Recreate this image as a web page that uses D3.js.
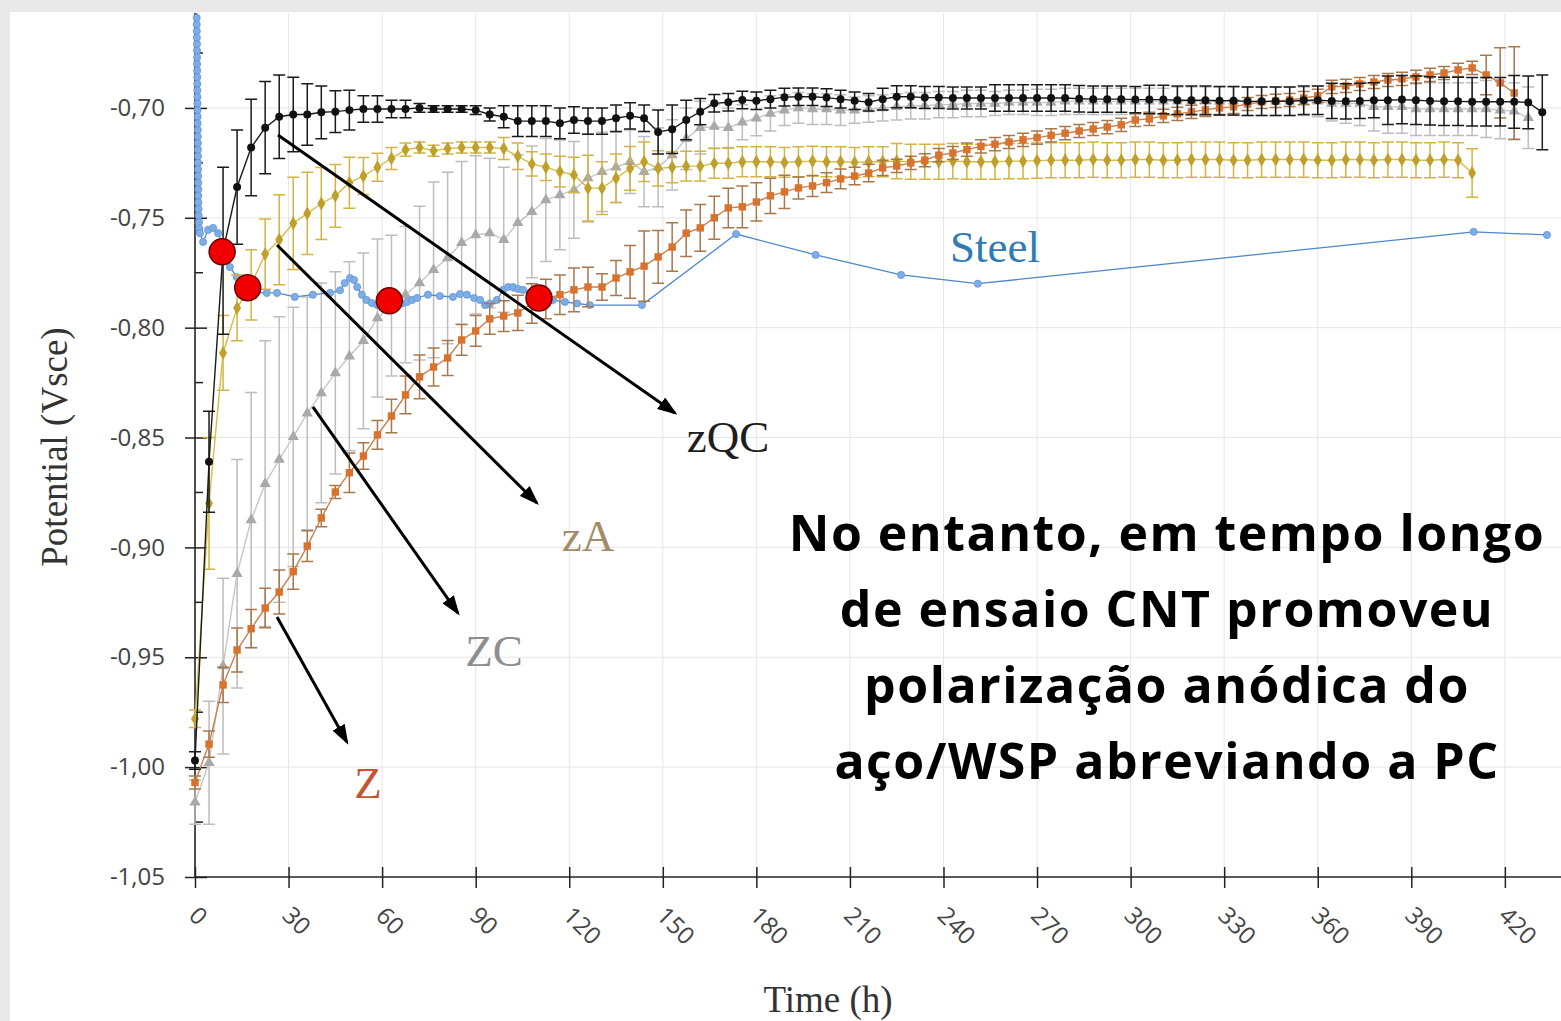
<!DOCTYPE html>
<html>
<head>
<meta charset="utf-8">
<script src="https://cdn.jsdelivr.net/npm/d3@7"></script>
<style>
body { margin: 0; background: #fff; }
svg { display: block; }
</style>
</head>
<body>
<div id="chart"></div>
<script>
// sampling times (h) shared by the four coated series
var hours = [0, 4.5, 9, 13.5, 18, 22.5, 27, 31.5, 36, 40.5, 45, 49.5, 54, 58.5, 63, 67.5, 72, 76.5, 81, 85.5,
  90, 94.5, 99, 103.5, 108, 112.5, 117, 121.5, 126, 130.5, 135, 139.5, 144, 148.5, 153, 157.5, 162, 166.5, 171, 175.5,
  180, 184.5, 189, 193.5, 198, 202.5, 207, 211.5, 216, 220.5, 225, 229.5, 234, 238.5, 243, 247.5, 252, 256.5, 261, 265.5,
  270, 274.5, 279, 283.5, 288, 292.5, 297, 301.5, 306, 310.5, 315, 319.5, 324, 328.5, 333, 337.5, 342, 346.5, 351, 355.5,
  360, 364.5, 369, 373.5, 378, 382.5, 387, 391.5, 396, 400.5, 405, 409.5, 414, 418.5, 423, 427.5, 432];

var zqcValues = [-0.997, -0.861, -0.765, -0.736, -0.718, -0.709, -0.704, -0.703, -0.703, -0.702,
  -0.7017, -0.701, -0.7005, -0.7005, -0.7005, -0.7005, -0.700, -0.7005, -0.7005, -0.7005,
  -0.701, -0.703, -0.704, -0.706, -0.706, -0.706, -0.707, -0.7055, -0.706, -0.706,
  -0.7047, -0.7036, -0.7047, -0.711, -0.7097, -0.7055, -0.7017, -0.6979, -0.6974, -0.6964,
  -0.6967, -0.696, -0.6951, -0.6949, -0.6949, -0.6953, -0.696, -0.6967, -0.6974, -0.696,
  -0.6949, -0.6949, -0.6953, -0.6953, -0.6955, -0.6955, -0.6955, -0.6955, -0.6955, -0.6955,
  -0.6955, -0.6955, -0.6955, -0.6958, -0.696, -0.696, -0.696, -0.6962, -0.6962, -0.6962,
  -0.6965, -0.6965, -0.6965, -0.6967, -0.6967, -0.697, -0.697, -0.697, -0.697, -0.6965,
  -0.6965, -0.6968, -0.697, -0.6968, -0.6965, -0.6965, -0.6962, -0.6965, -0.6968, -0.697,
  -0.697, -0.6972, -0.6972, -0.6972, -0.6972, -0.6975, -0.702];
var zqcErrors = [0.004, 0.023, 0.038, 0.026, 0.022, 0.021, 0.019, 0.017, 0.014, 0.012,
  0.0095, 0.009, 0.006, 0.006, 0.004, 0.004, 0.002, 0.0015, 0.0015, 0.0015,
  0.002, 0.003, 0.005, 0.007, 0.007, 0.007, 0.007, 0.006, 0.006, 0.006,
  0.006, 0.006, 0.006, 0.010, 0.011, 0.009, 0.006, 0.004, 0.004, 0.004,
  0.004, 0.004, 0.004, 0.004, 0.004, 0.004, 0.004, 0.004, 0.004, 0.005,
  0.005, 0.005, 0.005, 0.005, 0.005, 0.005, 0.005, 0.006, 0.006, 0.006,
  0.006, 0.006, 0.006, 0.006, 0.006, 0.006, 0.006, 0.006, 0.0065, 0.0065,
  0.0065, 0.0065, 0.0065, 0.0065, 0.0065, 0.0065, 0.0065, 0.0065, 0.0065, 0.0065,
  0.0065, 0.008, 0.008, 0.008, 0.008, 0.011, 0.011, 0.011, 0.011, 0.011,
  0.011, 0.011, 0.011, 0.011, 0.012, 0.012, 0.017];

var zcValues = [-1.016, -0.998, -0.954, -0.912, -0.8875, -0.871, -0.860, -0.8497, -0.839, -0.8297,
  -0.8206, -0.813, -0.806, -0.7956, -0.790, -0.785, -0.7797, -0.7737, -0.7683, -0.7614,
  -0.7578, -0.7569, -0.760, -0.7523, -0.7473, -0.7419, -0.7396, -0.7373, -0.7319, -0.7291,
  -0.727, -0.7245, -0.729, -0.727, -0.7214, -0.714, -0.709, -0.7085, -0.709, -0.7065,
  -0.7047, -0.7025, -0.701, -0.700, -0.7005, -0.7005, -0.701, -0.701, -0.7005, -0.700,
  -0.6995, -0.699, -0.699, -0.6985, -0.6985, -0.698, -0.698, -0.698, -0.6975, -0.6975,
  -0.6975, -0.6975, -0.697, -0.697, -0.697, -0.697, -0.697, -0.697, -0.697, -0.697,
  -0.697, -0.697, -0.697, -0.697, -0.697, -0.697, -0.697, -0.697, -0.697, -0.697,
  -0.697, -0.698, -0.698, -0.698, -0.6995, -0.6995, -0.6995, -0.7005, -0.7005, -0.7005,
  -0.7005, -0.7005, -0.7005, -0.701, -0.7015, -0.7045];
var zcErrors = [0.010, 0.028, 0.040, 0.052, 0.058, 0.065, 0.065, 0.059, 0.053, 0.050,
  0.046, 0.043, 0.040, 0.036, 0.032, 0.031, 0.035, 0.040, 0.039, 0.037,
  0.036, 0.034, 0.033, 0.031, 0.030, 0.028, 0.025, 0.022, 0.020, 0.018,
  0.016, 0.0145, 0.016, 0.018, 0.016, 0.014, 0.012, 0.010, 0.009, 0.008,
  0.008, 0.008, 0.007, 0.007, 0.007, 0.007, 0.007, 0.006, 0.006, 0.006,
  0.006, 0.006, 0.006, 0.006, 0.006, 0.006, 0.006, 0.0055, 0.0055, 0.0055,
  0.006, 0.006, 0.006, 0.006, 0.006, 0.006, 0.006, 0.006, 0.006, 0.006,
  0.0065, 0.0065, 0.0065, 0.0065, 0.0065, 0.0065, 0.0065, 0.0065, 0.0065, 0.0065,
  0.007, 0.008, 0.009, 0.010, 0.011, 0.012, 0.012, 0.012, 0.012, 0.012,
  0.012, 0.012, 0.013, 0.013, 0.013, 0.014];

var zaValues = [-0.978, -0.880, -0.8115, -0.791, -0.7805, -0.7665, -0.760, -0.7525, -0.748, -0.7435,
  -0.740, -0.734, -0.731, -0.727, -0.723, -0.719, -0.718, -0.7195, -0.7185, -0.718,
  -0.718, -0.718, -0.7185, -0.722, -0.7255, -0.727, -0.729, -0.7305, -0.7365, -0.7365,
  -0.732, -0.7275, -0.7245, -0.7275, -0.727, -0.7265, -0.7265, -0.7252, -0.7252, -0.7245,
  -0.7245, -0.7245, -0.7248, -0.7245, -0.7242, -0.7245, -0.7245, -0.7248, -0.7245, -0.7245,
  -0.7242, -0.7245, -0.7245, -0.7245, -0.7242, -0.7245, -0.7245, -0.7245, -0.7242, -0.7242,
  -0.724, -0.7238, -0.7238, -0.7238, -0.7235, -0.7238, -0.7238, -0.7235, -0.7235, -0.7238,
  -0.7238, -0.7235, -0.7235, -0.7235, -0.7238, -0.7238, -0.7235, -0.7235, -0.7235, -0.7235,
  -0.7238, -0.7238, -0.7235, -0.7235, -0.7238, -0.7235, -0.7235, -0.7238, -0.7238, -0.7235,
  -0.7238, -0.7296];
var zaErrors = [0.004, 0.030, 0.017, 0.015, 0.016, 0.016, 0.0205, 0.021, 0.0187, 0.0164,
  0.0143, 0.0116, 0.0084, 0.0064, 0.005, 0.003, 0.0025, 0.0025, 0.0025, 0.0025,
  0.0025, 0.0025, 0.005, 0.006, 0.0055, 0.006, 0.007, 0.008, 0.015, 0.012,
  0.011, 0.010, 0.009, 0.008, 0.007, 0.0068, 0.0068, 0.0068, 0.0068, 0.0068,
  0.0068, 0.0068, 0.0068, 0.0068, 0.0068, 0.0068, 0.0068, 0.0068, 0.0068, 0.0068,
  0.008, 0.008, 0.008, 0.008, 0.008, 0.008, 0.008, 0.008, 0.008, 0.008,
  0.008, 0.008, 0.008, 0.008, 0.008, 0.008, 0.008, 0.008, 0.008, 0.008,
  0.008, 0.008, 0.008, 0.008, 0.008, 0.008, 0.008, 0.008, 0.008, 0.008,
  0.008, 0.008, 0.008, 0.008, 0.008, 0.008, 0.008, 0.008, 0.008, 0.008,
  0.008, 0.011];

var zValues = [-1.007, -0.9895, -0.9626, -0.9467, -0.937, -0.9276, -0.9203, -0.911, -0.8994, -0.8866,
  -0.8748, -0.866, -0.8584, -0.8488, -0.8402, -0.8306, -0.8224, -0.8179, -0.8138, -0.8056,
  -0.8015, -0.796, -0.7947, -0.7933, -0.789, -0.787, -0.785, -0.7828, -0.7815, -0.7815,
  -0.7774, -0.7746, -0.772, -0.7678, -0.7633, -0.757, -0.7546, -0.750, -0.7455, -0.745,
  -0.7428, -0.740, -0.7382, -0.7364, -0.7355, -0.734, -0.7323, -0.731, -0.7296, -0.7273,
  -0.7264, -0.725, -0.7238, -0.7215, -0.7205, -0.719, -0.7175, -0.7165, -0.7155, -0.7145,
  -0.7135, -0.7125, -0.7115, -0.7105, -0.7096, -0.7087, -0.7077, -0.7055, -0.705, -0.7036,
  -0.7027, -0.7018, -0.7009, -0.700, -0.6995, -0.6982, -0.6973, -0.6968, -0.6964, -0.6955,
  -0.6945, -0.6904, -0.690, -0.6891, -0.6882, -0.6873, -0.6868, -0.6859, -0.685, -0.6841,
  -0.6827, -0.6818, -0.685, -0.6886, -0.6932];
var zErrors = [0.003, 0.006, 0.008, 0.010, 0.0087, 0.009, 0.010, 0.008, 0.007, 0.004,
  0.003, 0.009, 0.006, 0.0065, 0.0076, 0.0086, 0.010, 0.0087, 0.008, 0.007,
  0.007, 0.007, 0.007, 0.008, 0.009, 0.009, 0.009, 0.010, 0.009, 0.006,
  0.008, 0.012, 0.016, 0.012, 0.011, 0.0106, 0.0106, 0.0098, 0.009, 0.0095,
  0.0087, 0.008, 0.0076, 0.005, 0.0048, 0.0045, 0.0045, 0.004, 0.004, 0.0035,
  0.003, 0.003, 0.003, 0.003, 0.003, 0.003, 0.003, 0.003, 0.003, 0.003,
  0.003, 0.003, 0.003, 0.003, 0.003, 0.003, 0.003, 0.003, 0.003, 0.003,
  0.003, 0.003, 0.003, 0.003, 0.003, 0.003, 0.003, 0.003, 0.003, 0.003,
  0.003, 0.003, 0.003, 0.003, 0.003, 0.003, 0.003, 0.003, 0.003, 0.003,
  0.003, 0.003, 0.009, 0.016, 0.021];

// bare steel: dense logging at the start, sparse readings afterwards
var steelHours = [0.5, 0.52, 0.54, 0.56, 0.58, 0.6, 0.62, 0.64, 0.66, 0.68, 0.7, 0.72, 0.74, 0.76, 0.78,
  0.8, 0.82, 0.84, 0.86, 0.88, 0.9, 0.92, 0.94, 0.96, 0.98, 1.0, 1.02, 1.04, 1.06, 1.08, 1.1, 1.15, 1.2, 1.3, 1.4,
  1.6, 2.6, 4.2, 5.8, 7.4, 9.0, 11.2, 13.4, 15.4, 18.6, 23, 26.3, 32, 37.8, 43.3, 46.5, 48, 49.7, 51, 52,
  53.5, 55, 56.7, 58.4, 60, 62, 64, 66.4, 68, 69.6, 71.2, 74.7, 78.5, 82.7, 85, 87.2, 89.5, 91.4, 93, 94.6,
  96.8, 98.8, 100.4, 102, 103.6, 105.2, 107.4, 110.6, 114.8, 118.6, 122.5, 126.6,
  143.3, 173.5, 199, 226.4, 251, 410, 433.5];
var steelValues = [-0.650, -0.655, -0.659, -0.662, -0.665, -0.668, -0.671, -0.674, -0.677, -0.680, -0.683,
  -0.686, -0.689, -0.692, -0.695, -0.698, -0.701, -0.704, -0.707, -0.710, -0.713, -0.716, -0.719, -0.722,
  -0.725, -0.728, -0.731, -0.734, -0.737, -0.740, -0.743, -0.746, -0.749, -0.752, -0.755,
  -0.757, -0.761, -0.7555, -0.7546, -0.757, -0.763, -0.7724, -0.777, -0.7815, -0.784, -0.7842, -0.7842,
  -0.786, -0.785, -0.7842, -0.783, -0.7797, -0.7774, -0.7783, -0.7815, -0.785, -0.7874, -0.7888, -0.7897,
  -0.7906, -0.7906, -0.790, -0.789, -0.7883, -0.7874, -0.7865, -0.785, -0.7856, -0.786, -0.7847, -0.785,
  -0.7865, -0.7874, -0.7897, -0.789, -0.7874, -0.7828, -0.7815, -0.7815, -0.7824, -0.7828, -0.7842,
  -0.786, -0.7874, -0.7883, -0.789, -0.7897,
  -0.7897, -0.7574, -0.7669, -0.776, -0.780, -0.7564, -0.7578];

var xTicks = [0, 30, 60, 90, 120, 150, 180, 210, 240, 270, 300, 330, 360, 390, 420];
var yTicks = [-1.05, -1.00, -0.95, -0.90, -0.85, -0.80, -0.75, -0.70];
var yMinorTicks = [-1.025, -0.975, -0.925, -0.875, -0.825, -0.775, -0.725, -0.675];

// annotations: red crossing markers, arrows and series names
var crossHours = [8.7, 16.9, 62.3, 110.3];
var crossValues = [-0.7655, -0.7818, -0.7878, -0.7865];
var arrowStart = [[26.6, -0.7123], [26.3, -0.7624], [37.8, -0.8361], [26.3, -0.9317]];
var arrowEnd = [[153.9, -0.8388], [109.6, -0.8798], [84.3, -0.9299], [48.7, -0.9886]];
var labelNames = ["zQC", "zA", "ZC", "Z", "Steel"];
var labelHours = [170.9, 126, 95.9, 55.5, 256.5];
var labelValues = [-0.8566, -0.9016, -0.954, -1.014, -0.770];
var labelColors = ["#1e1e1e", "#a28c6a", "#8e8e8e", "#c4552f", "#2f7bb4"];
var noteLines = ["No entanto, em tempo longo", "de ensaio CNT promoveu",
  "polarização anódica do", "aço/WSP abreviando a PC"];

var W = 1561, H = 1021;
var margin = { top: 13, right: 0, bottom: 144, left: 195 };

var x = d3.scaleLinear().domain([0, 438]).range([margin.left, W - margin.right]);
var y = d3.scaleLinear().domain([-1.05, -0.6568]).range([H - margin.bottom, margin.top]);

var svg = d3.select("#chart").append("svg")
  .attr("width", W)
  .attr("height", H);

// screenshot frame
svg.append("rect").attr("width", W).attr("height", H).attr("fill", "#e9e9e9");
svg.append("rect").attr("x", 10).attr("y", 12).attr("width", W - 10).attr("height", H - 12).attr("fill", "#fff");

svg.append("defs").append("clipPath").attr("id", "plotclip")
  .append("rect")
  .attr("x", margin.left - 8).attr("y", margin.top)
  .attr("width", W - margin.left + 8).attr("height", H - margin.bottom - margin.top);

var marker = svg.select("defs").append("marker")
  .attr("id", "arrow")
  .attr("viewBox", "0 0 20 14")
  .attr("refX", 17).attr("refY", 7)
  .attr("markerWidth", 20).attr("markerHeight", 14)
  .attr("markerUnits", "userSpaceOnUse")
  .attr("orient", "auto");
marker.append("path").attr("d", "M0,0 L20,7 L0,14 z").attr("fill", "#000");

// grid
var grid = svg.append("g").attr("stroke", "#e6e6e6").attr("stroke-width", 1);
grid.selectAll(".vg").data(xTicks.slice(1)).enter().append("line")
  .attr("x1", function(d) { return x(d); }).attr("x2", function(d) { return x(d); })
  .attr("y1", y.range()[1]).attr("y2", y.range()[0]);
grid.selectAll(".hg").data(yTicks.slice(1)).enter().append("line")
  .attr("x1", x(0)).attr("x2", W)
  .attr("y1", function(d) { return y(d); }).attr("y2", function(d) { return y(d); });

// y axis
var fmt = function(d) { return d3.format(".2f")(d).replace("−", "-").replace(".", ","); };
var yAxisG = svg.append("g")
  .attr("transform", "translate(" + x(0) + ",0)")
  .call(d3.axisLeft(y).tickValues(yTicks).tickSize(10).tickPadding(20).tickFormat(fmt));
yAxisG.select(".domain").remove();
yAxisG.selectAll(".tick line").attr("x1", 12).attr("x2", -10).attr("stroke", "#222").attr("stroke-width", 1.5);
yAxisG.selectAll(".tick text")
  .attr("font-family", "'Open Sans', sans-serif")
  .attr("font-size", 24)
  .attr("fill", "#444");
yAxisG.selectAll(".minor").data(yMinorTicks).enter().append("line")
  .attr("x1", 0).attr("x2", 8)
  .attr("y1", function(d) { return y(d); }).attr("y2", function(d) { return y(d); })
  .attr("stroke", "#222").attr("stroke-width", 1.5);

// x axis
var xAxisG = svg.append("g")
  .attr("transform", "translate(0," + y(-1.05) + ")")
  .call(d3.axisBottom(x).tickValues(xTicks).tickSize(11).tickFormat(""));
xAxisG.select(".domain").remove();
xAxisG.selectAll(".tick line").attr("y1", -10).attr("y2", 11).attr("stroke", "#222").attr("stroke-width", 1.5);
xAxisG.selectAll(".tick").append("text")
  .attr("transform", "translate(-8,40) rotate(45)")
  .attr("text-anchor", "start")
  .attr("font-family", "'Open Sans', sans-serif")
  .attr("font-size", 24)
  .attr("fill", "#444")
  .text(function(d) { return d; });

svg.append("line")
  .attr("x1", x(0)).attr("x2", W)
  .attr("y1", y(-1.05)).attr("y2", y(-1.05))
  .attr("stroke", "#222").attr("stroke-width", 1.6);
svg.append("line")
  .attr("x1", x(0)).attr("x2", x(0))
  .attr("y1", y.range()[1]).attr("y2", y(-1.05))
  .attr("stroke", "#222").attr("stroke-width", 1.6);

// axis titles
svg.append("text")
  .attr("transform", "translate(67," + ((y.range()[0] + y.range()[1]) / 2 + 2) + ") rotate(-90)")
  .attr("text-anchor", "middle")
  .attr("font-family", "'Liberation Serif', serif")
  .attr("font-size", 37)
  .attr("fill", "#333")
  .text("Potential (Vsce)");
svg.append("text")
  .attr("x", 828).attr("y", 1012)
  .attr("text-anchor", "middle")
  .attr("font-family", "'Liberation Serif', serif")
  .attr("font-size", 37)
  .attr("fill", "#333")
  .text("Time (h)");

var plot = svg.append("g").attr("clip-path", "url(#plotclip)");

var drawSeries = function(values, errors, opt) {
  var pts = values.map(function(v, i) { return { t: hours[i], v: v, e: errors[i] }; });
  var g = plot.append("g");
  g.selectAll(".err").data(pts).enter().append("path")
    .attr("d", function(d) {
      var cx = x(d.t), lo = y(d.v - d.e), hi = y(d.v + d.e);
      return "M" + cx + "," + lo + "V" + hi +
        "M" + (cx - 6) + "," + lo + "H" + (cx + 6) +
        "M" + (cx - 6) + "," + hi + "H" + (cx + 6);
    })
    .attr("fill", "none")
    .attr("stroke", opt.err)
    .attr("stroke-width", 1.5);
  g.append("path").datum(pts)
    .attr("d", d3.line().x(function(d) { return x(d.t); }).y(function(d) { return y(d.v); }))
    .attr("fill", "none")
    .attr("stroke", opt.line)
    .attr("stroke-width", 1.4);
  g.selectAll(".pt").data(pts).enter().append("path")
    .attr("transform", function(d) { return "translate(" + x(d.t) + "," + y(d.v) + ")"; })
    .attr("d", d3.symbol().type(opt.symbol).size(opt.size))
    .attr("fill", opt.fill);
};

drawSeries(zcValues, zcErrors, { err: "#bdbdbd", line: "#c6c6c6", fill: "#a9a9a9", symbol: d3.symbolTriangle, size: 55 });

// steel
var steel = steelHours.map(function(t, i) { return { t: t, v: steelValues[i] }; });
plot.append("path").datum(steel)
  .attr("d", d3.line().x(function(d) { return x(d.t); }).y(function(d) { return y(d.v); }))
  .attr("fill", "none")
  .attr("stroke", "#4f86cc")
  .attr("stroke-width", 1.3);
plot.selectAll(".steel").data(steel).enter().append("circle")
  .attr("cx", function(d) { return x(d.t); })
  .attr("cy", function(d) { return y(d.v); })
  .attr("r", 3.6)
  .attr("fill", "#7eaee8")
  .attr("stroke", "#5d90d2")
  .attr("stroke-width", 0.7);

drawSeries(zaValues, zaErrors, { err: "#d2b445", line: "#d6bd45", fill: "#bea02a", symbol: d3.symbolDiamond, size: 55 });
drawSeries(zValues, zErrors, { err: "#a8784c", line: "#c9804e", fill: "#d8722c", symbol: d3.symbolSquare, size: 55 });
drawSeries(zqcValues, zqcErrors, { err: "#1a1a1a", line: "#1a1a1a", fill: "#111", symbol: d3.symbolCircle, size: 50 });

// arrows
svg.selectAll(".arrow").data(arrowStart).enter().append("line")
  .attr("x1", function(d) { return x(d[0]); })
  .attr("y1", function(d) { return y(d[1]); })
  .attr("x2", function(d, i) { return x(arrowEnd[i][0]); })
  .attr("y2", function(d, i) { return y(arrowEnd[i][1]); })
  .attr("stroke", "#000")
  .attr("stroke-width", 3)
  .attr("marker-end", "url(#arrow)");

// crossing markers
svg.selectAll(".cross").data(crossHours).enter().append("circle")
  .attr("cx", function(d) { return x(d); })
  .attr("cy", function(d, i) { return y(crossValues[i]); })
  .attr("r", 13)
  .attr("fill", "#f00000")
  .attr("stroke", "#6a0000")
  .attr("stroke-width", 1.5);

// series names
svg.selectAll(".name").data(labelNames).enter().append("text")
  .attr("x", function(d, i) { return x(labelHours[i]); })
  .attr("y", function(d, i) { return y(labelValues[i]); })
  .attr("text-anchor", "middle")
  .attr("font-family", "'Liberation Serif', serif")
  .attr("font-size", 45)
  .attr("fill", function(d, i) { return labelColors[i]; })
  .text(function(d) { return d; });

// slide note
svg.append("g").selectAll("text").data(noteLines).enter().append("text")
  .attr("x", 1167)
  .attr("y", function(d, i) { return 551 + i * 76; })
  .attr("text-anchor", "middle")
  .attr("font-family", "'Open Sans', sans-serif")
  .attr("font-weight", 700)
  .attr("font-size", 50)
  .attr("letter-spacing", 1.5)
  .attr("fill", "#000")
  .text(function(d) { return d; });
</script>
</body>
</html>
